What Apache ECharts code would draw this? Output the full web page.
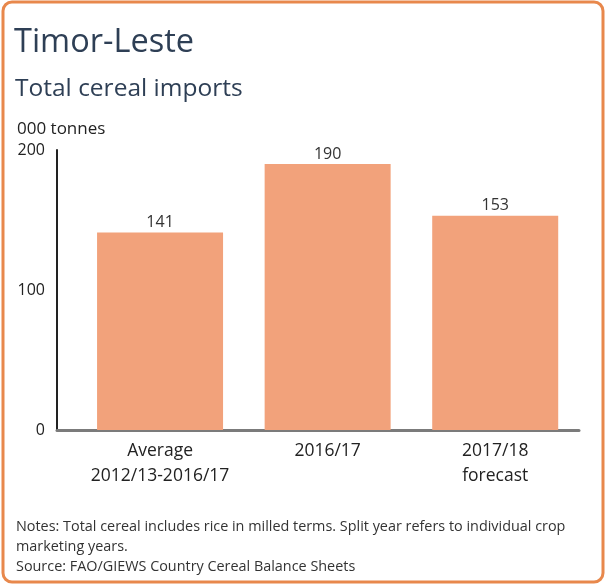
<!DOCTYPE html>
<html>
<head>
<meta charset="utf-8">
<script src="https://cdn.jsdelivr.net/npm/echarts@6/dist/echarts.min.js"></script>
<style>
  html, body { margin: 0; padding: 0; background: #ffffff; }
  #chart { width: 606px; height: 586px; }
</style>
</head>
<body>
<div id="chart"></div>
<script>
// data
var categories = ['Average\n2012/13-2016/17', '2016/17', '2017/18\nforecast']
var imports = [141, 190, 153] // 000 tonnes
var yTicks = [0, 100, 200]

var noteLines = [
  'Notes: Total cereal includes rice in milled terms. Split year refers to individual crop',
  'marketing years.',
  'Source: FAO/GIEWS Country Cereal Balance Sheets'
]

var font = '"Open Sans", "Noto Sans", sans-serif'
var myChart = echarts.init(document.getElementById('chart'), null, { renderer: 'canvas' })

// bars sit on a value axis so the left gap before the first bar matches the original
var barData = imports.map(function (v, i) { return [i, v] })

var option = {
  backgroundColor: '#ffffff',
  animation: false,
  textStyle: { fontFamily: font },
  title: [
    {
      text: 'Timor-Leste',
      left: 9, top: 21,
      textStyle: { fontFamily: font, fontSize: 32.5, fontWeight: 'normal', color: '#2e3f55' }
    },
    {
      text: 'Total cereal imports',
      left: 10, top: 72,
      textStyle: { fontFamily: font, fontSize: 24.5, fontWeight: 'normal', color: '#2e3f55' }
    },
    {
      text: '000 tonnes',
      left: 12, top: 116,
      textStyle: { fontFamily: font, fontSize: 17, fontWeight: 'normal', color: '#222222' }
    },
    {
      text: noteLines.join('\n'),
      left: 11, top: 512,
      textStyle: { fontFamily: font, fontSize: 14.4, lineHeight: 20, fontWeight: 'normal', color: '#333333' }
    }
  ],
  grid: {
    left: 57,
    right: 27,
    top: 150,
    bottom: 156,
    containLabel: false
  },
  xAxis: {
    type: 'value',
    min: -0.615,
    max: 2.5,
    splitLine: { show: false },
    axisTick: { show: false },
    axisLine: { show: true, onZero: false, lineStyle: { color: '#7b7b7b', width: 3 } },
    axisLabel: {
      customValues: [0, 1, 2],
      formatter: function (v) { return categories[Math.round(v)] },
      fontFamily: font,
      fontSize: 17.5,
      lineHeight: 25,
      color: '#222222',
      margin: 9
    }
  },
  yAxis: {
    type: 'value',
    min: 0,
    max: 200,
    interval: 100,
    splitLine: { show: false },
    axisTick: { show: false },
    axisLine: { show: true, onZero: false, lineStyle: { color: '#222222', width: 2 } },
    axisLabel: {
      formatter: function (v) { return yTicks.indexOf(v) >= 0 ? String(v) : '' },
      fontFamily: font,
      fontSize: 16,
      color: '#222222',
      margin: 12
    }
  },
  series: [
    {
      type: 'bar',
      data: barData,
      barWidth: 126,
      itemStyle: { color: '#f2a27b' },
      label: {
        show: true,
        position: 'top',
        distance: 2,
        formatter: function (p) { return p.value[1] },
        fontFamily: font,
        fontSize: 16,
        color: '#333333'
      }
    }
  ],
  graphic: [
    {
      type: 'rect',
      z: 100,
      silent: true,
      shape: { x: 3, y: 2, width: 600, height: 580, r: 9 },
      style: { fill: 'none', stroke: '#e8884c', lineWidth: 3 }
    }
  ]
}

myChart.setOption(option)
</script>
</body>
</html>
